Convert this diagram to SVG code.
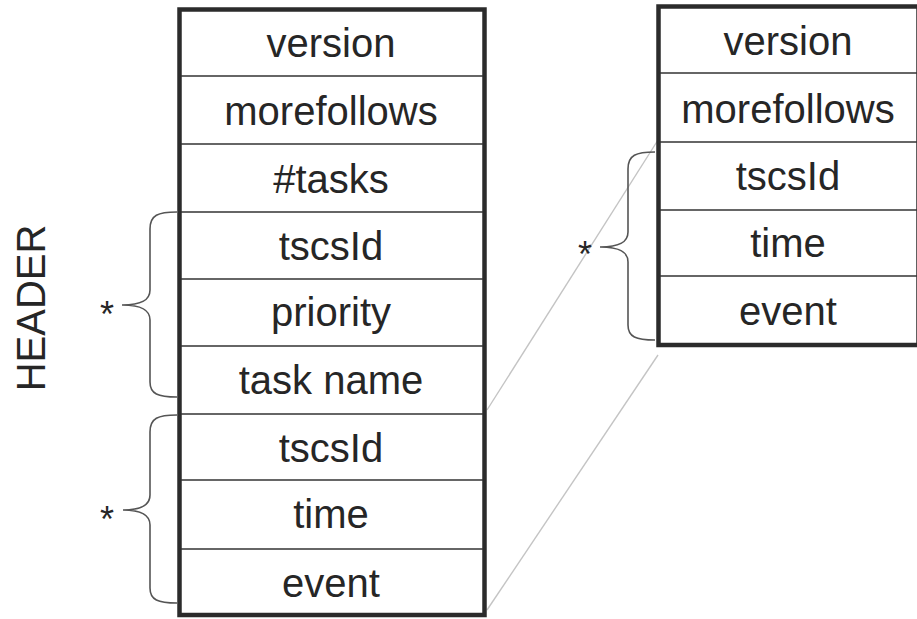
<svg xmlns="http://www.w3.org/2000/svg" width="917" height="619" viewBox="0 0 917 619">
  <style>
    .frame { fill: #ffffff; stroke: #2b2b2b; stroke-width: 4.5; }
    .sep { stroke: #333333; stroke-width: 1.6; fill: none; }
    .lbl { font-family: "Liberation Sans", Arial, sans-serif; font-size: 40px; fill: #262626; text-anchor: middle; }
    .brace { fill: none; stroke: #555555; stroke-width: 1.6; }
    .star { font-family: "Liberation Sans", Arial, sans-serif; font-size: 36px; fill: #262626; text-anchor: middle; }
    .link { stroke: #c4c4c4; stroke-width: 1.4; fill: none; }
  </style>
  <rect width="917" height="619" fill="#ffffff"/>

  <!-- connectors between the two record layouts -->
  <g id="connectors">
    <line class="link" x1="487" y1="410" x2="658" y2="140"/>
    <line class="link" x1="487" y1="610" x2="658" y2="355"/>
  </g>

  <!-- vertical title -->
  <g id="header-title">
    <text class="lbl" font-size="39" transform="translate(45,308) rotate(-90)">HEADER</text>
  </g>

  <!-- main message layout -->
  <g id="message">
    <rect class="frame" x="179.5" y="9.5" width="305" height="605.5"/>
    <line class="sep" x1="181" y1="76" x2="483" y2="76"/>
    <line class="sep" x1="181" y1="144" x2="483" y2="144"/>
    <line class="sep" x1="181" y1="212" x2="483" y2="212"/>
    <line class="sep" x1="181" y1="279" x2="483" y2="279"/>
    <line class="sep" x1="181" y1="346" x2="483" y2="346"/>
    <line class="sep" x1="181" y1="414" x2="483" y2="414"/>
    <line class="sep" x1="181" y1="480" x2="483" y2="480"/>
    <line class="sep" x1="181" y1="549" x2="483" y2="549"/>
    <text class="lbl" x="331" y="57">version</text>
    <text class="lbl" x="331" y="125">morefollows</text>
    <text class="lbl" x="331" y="193">#tasks</text>
    <text class="lbl" x="331" y="260">tscsId</text>
    <text class="lbl" x="331" y="326">priority</text>
    <text class="lbl" x="331" y="394">task name</text>
    <text class="lbl" x="331" y="462">tscsId</text>
    <text class="lbl" x="331" y="528">time</text>
    <text class="lbl" x="331" y="597">event</text>
  </g>

  <!-- repeat marker for the task entries -->
  <g id="task-repeat">
    <path class="brace" d="M177,212 C158,212 150,215 150,229 L150,290 C150,300 142,305 122,305 C142,305 150,310 150,320 L150,382 C150,394 158,397 177,397"/>
    <text class="star" x="107" y="327">*</text>
  </g>

  <!-- repeat marker for the event entries -->
  <g id="event-repeat">
    <path class="brace" d="M177,415 C158,415 150,418 150,432 L150,495 C150,505 142,510 123,510 C142,510 150,515 150,525 L150,588 C150,600 158,603 177,603"/>
    <text class="star" x="107" y="532">*</text>
  </g>

  <!-- follow-up message layout -->
  <g id="followup">
    <rect class="frame" x="658.5" y="6.5" width="260" height="338.5"/>
    <line class="sep" x1="660" y1="73" x2="917" y2="73"/>
    <line class="sep" x1="660" y1="142" x2="917" y2="142"/>
    <line class="sep" x1="660" y1="210" x2="917" y2="210"/>
    <line class="sep" x1="660" y1="276" x2="917" y2="276"/>
    <text class="lbl" x="788" y="55">version</text>
    <text class="lbl" x="788" y="123">morefollows</text>
    <text class="lbl" x="788" y="190">tscsId</text>
    <text class="lbl" x="788" y="257">time</text>
    <text class="lbl" x="788" y="325">event</text>
  </g>

  <!-- repeat marker for the follow-up events -->
  <g id="followup-repeat">
    <path class="brace" d="M655,152 C636,152 628,155 628,169 L628,232 C628,242 620,247 600,247 C620,247 628,252 628,262 L628,325 C628,337 636,340 655,340"/>
    <text class="star" x="585" y="267">*</text>
  </g>
</svg>
